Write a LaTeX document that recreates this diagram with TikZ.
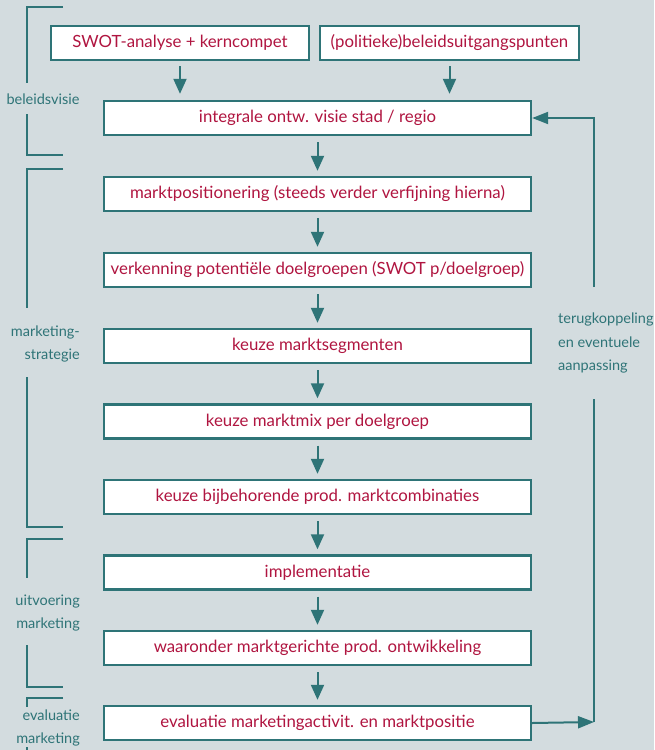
\documentclass[tikz,border=0pt]{standalone}
\usepackage{fontspec}
\setmainfont{Lato}
\usetikzlibrary{arrows.meta}
\definecolor{bg}{HTML}{D3DCDF}
\definecolor{tealc}{HTML}{2E7477}
\definecolor{redc}{HTML}{B01540}
\begin{document}
\begin{tikzpicture}[x=1pt,y=-1pt,
  stepbox/.style={draw=tealc, line width=2.4pt, fill=white, text=redc,
    font=\fontsize{16.8}{19}\selectfont, minimum height=34pt, inner sep=0pt},
  mainbox/.style={stepbox, minimum width=427pt},
  flow/.style={draw=tealc, line width=2pt, -{Triangle[length=15pt,width=13pt]}},
  loopline/.style={draw=tealc, line width=2pt},
  looparrow/.style={loopline, -{Triangle[length=16pt,width=12pt]}},
  side/.style={text=tealc, font=\fontsize{14.5}{23}\selectfont, inner sep=0pt},
  brk/.style={draw=tealc, line width=2.4pt}
]
% background and page size
\fill[bg] (0,0) rectangle (654,750);
\useasboundingbox (0,0) rectangle (654,750);

% input boxes
\node[stepbox, minimum width=258pt] (swot) at (180,43) {SWOT-analyse + kerncompet};
\node[stepbox, minimum width=259pt] (beleid) at (449.5,43) {(politieke)beleidsuitgangspunten};

% main chain
\node[mainbox] (visie) at (317.5,118) {integrale ontw. visie stad / regio};
\node[mainbox] (positie) at (317.5,194) {marktpositionering (steeds verder verfijning hierna)};
\node[mainbox] (verken) at (317.5,270) {verkenning potentiële doelgroepen (SWOT p/doelgroep)};
\node[mainbox] (segment) at (317.5,346) {keuze marktsegmenten};
\node[mainbox] (mix) at (317.5,421.5) {keuze marktmix per doelgroep};
\node[mainbox] (pmc) at (317.5,497) {keuze bijbehorende prod. marktcombinaties};
\node[mainbox] (impl) at (317.5,572.5) {implementatie};
\node[mainbox] (ontw) at (317.5,648) {waaronder marktgerichte prod. ontwikkeling};
\node[mainbox] (evalu) at (317.5,723) {evaluatie marketingactivit. en marktpositie};

% arrows into the vision box
\draw[flow, shorten <=5pt, shorten >=6pt] (swot.south) -- (swot.south |- visie.north);
\draw[flow, shorten <=5pt, shorten >=6pt] (beleid.south) -- (beleid.south |- visie.north);

% arrows along the chain
\foreach \a/\b in {visie/positie, positie/verken, verken/segment, segment/mix,
                   mix/pmc, pmc/impl, impl/ontw, ontw/evalu}
  \draw[flow, shorten <=6pt, shorten >=5pt] (\a.south) -- (\b.north);

% feedback loop
\coordinate (fbBottom) at (594,722);
\coordinate (fbLow) at (594,399);
\coordinate (fbTop) at (594,287);
\draw[looparrow] (evalu.east) -- (fbBottom);
\draw[loopline] (fbLow) -- (fbBottom);
\draw[looparrow] (fbTop) |- (visie.east);
\node[side, align=left, anchor=west, font=\fontsize{14.5}{23.5}\selectfont] (fbtext) at (558,343)
  {terugkoppeling\\en eventuele\\aanpassing};

% phase brackets
\draw[brk] (63,7) -| (27,83);
\draw[brk] (27,114) |- (63,155);
\node[side] (phase1) at (43,99) {beleidsvisie};

\draw[brk] (63,169) -| (27,308);
\draw[brk] (27,377) |- (63,527);
\node[side, align=right, anchor=east] (phase2) at (80,343.5) {marketing-\\strategie};

\draw[brk] (63,539) -| (27,578);
\draw[brk] (27,645) |- (63,687);
\node[side, align=right, anchor=east] (phase3) at (80,613.5) {uitvoering\\marketing};

\draw[brk] (63,698) -| (27,707);
\draw[brk] (27,747) -- (27,752);
\node[side, align=right, anchor=east] (phase4) at (80,728) {evaluatie\\marketing};
\end{tikzpicture}
\end{document}
